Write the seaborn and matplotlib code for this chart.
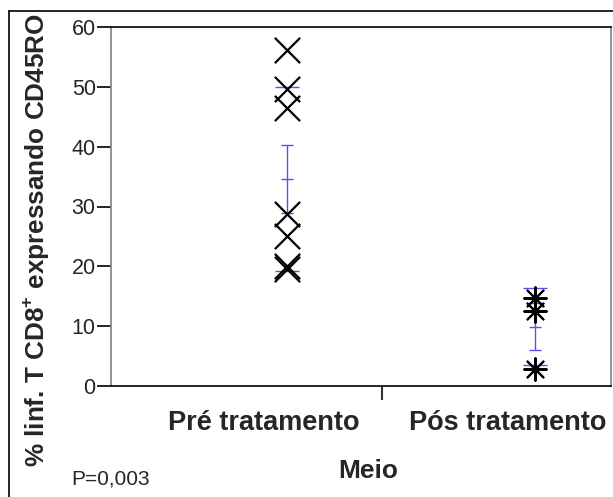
import matplotlib
matplotlib.use("Agg")
import matplotlib.pyplot as plt
import seaborn as sns
import pandas as pd
from matplotlib.lines import Line2D

# ---- data ----
categories = ["Pré tratamento", "Pós tratamento"]
pre_values = [56.2, 49.6, 46.4, 28.7, 25.0, 20.0, 19.5]
pos_values = [14.7, 12.5, 2.8]
means = [34.6, 9.9]
se = [5.7, 3.9]
sd = [15.45, 6.4]
y_ticks = [0, 10, 20, 30, 40, 50, 60]
y_label = r"% linf. T CD8$^{\mathbf{+}}$ expressando CD45RO"
x_label = "Meio"
p_text = "P=0,003"

sns.set_style("white")
plt.rcParams["font.family"] = ["Liberation Sans", "DejaVu Sans"]
plt.rcParams["mathtext.fontset"] = "custom"
plt.rcParams["mathtext.bf"] = "Liberation Sans:bold"
plt.rcParams["mathtext.rm"] = "Liberation Sans"

W, H = 613, 497
fig = plt.figure(figsize=(W / 100, H / 100), dpi=100)
L, R, T, B = 111, 611, 27, 386
ax = fig.add_axes([L / W, 1 - B / H, (R - L) / W, (B - T) / H])

# marker positions and label positions on a 0..2 axis
mark_pos = {categories[0]: 0.704, categories[1]: 1.696}
label_pos = [0.612, 1.588]

df_pre = pd.DataFrame({"grupo": categories[0], "valor": pre_values})
df_pos = pd.DataFrame({"grupo": categories[1], "valor": pos_values})
df_pre["x"] = df_pre["grupo"].map(mark_pos)
df_pos["x"] = df_pos["grupo"].map(mark_pos)

blue = "#5a4ff5"
xs = [mark_pos[c] for c in categories]
# SD caps only (no vertical)
ax.errorbar(xs, means, yerr=sd, fmt="none", ecolor=blue, elinewidth=0,
            capsize=8.5, capthick=1.0, zorder=2)
# SE bar with caps
ax.errorbar(xs, means, yerr=se, fmt="none", ecolor=blue, elinewidth=1.0,
            capsize=4.5, capthick=1.0, zorder=2)
# mean mark
ax.scatter(xs, means, marker="_", s=80, color=blue, linewidths=1.0, zorder=2)

sns.scatterplot(data=df_pre, x="x", y="valor", marker="x", s=330,
                color="black", linewidth=1.6, ax=ax, zorder=3, legend=False)
sns.scatterplot(data=df_pos, x="x", y="valor", marker=(8, 2, 0), s=260,
                color="black", linewidth=1.5, ax=ax, zorder=3, legend=False)

ax.set_xlim(0, 2)
ax.set_ylim(0, 60)
ax.set_yticks(y_ticks)
ax.set_yticklabels([str(t) for t in y_ticks], fontsize=15.5)
ax.tick_params(axis="y", direction="out", length=10, width=1.2, color="black",
               pad=1, left=True)
ax.set_xticks([1.084])
ax.set_xticklabels([""])
ax.tick_params(axis="x", direction="out", length=10, width=1.5, color="#333333",
               bottom=True)
ax.set_xlabel("")
ax.set_ylabel("")

for s in ["left", "right"]:
    ax.spines[s].set_color("#808080")
    ax.spines[s].set_linewidth(1.2)
for s in ["top", "bottom"]:
    ax.spines[s].set_color("black")
    ax.spines[s].set_linewidth(1.2)

# category labels
for lbl, xp in zip(categories, label_pos):
    ax.text(xp, 1 - (423 - T) / (B - T), lbl, transform=ax.get_xaxis_transform(),
            ha="center", va="center", fontsize=19.5, fontweight="bold")

fig.text(368 / W, 1 - 471 / H, x_label, ha="center", va="center",
         fontsize=19, fontweight="bold")
fig.text(71 / W, 1 - 479 / H, p_text, ha="left", va="center", fontsize=15)
fig.text(36 / W, 1 - 240 / H, y_label, ha="center", va="center", rotation=90,
         fontsize=18.8, fontweight="bold")

# outer frame lines (top and left)
fig.add_artist(Line2D([9 / W, 1.0], [1 - 11 / H, 1 - 11 / H], transform=fig.transFigure,
                      color="black", linewidth=1.2))
fig.add_artist(Line2D([9 / W, 9 / W], [1 - 11 / H, 0.0], transform=fig.transFigure,
                      color="black", linewidth=1.2))

fig.savefig("out.png", dpi=100)
